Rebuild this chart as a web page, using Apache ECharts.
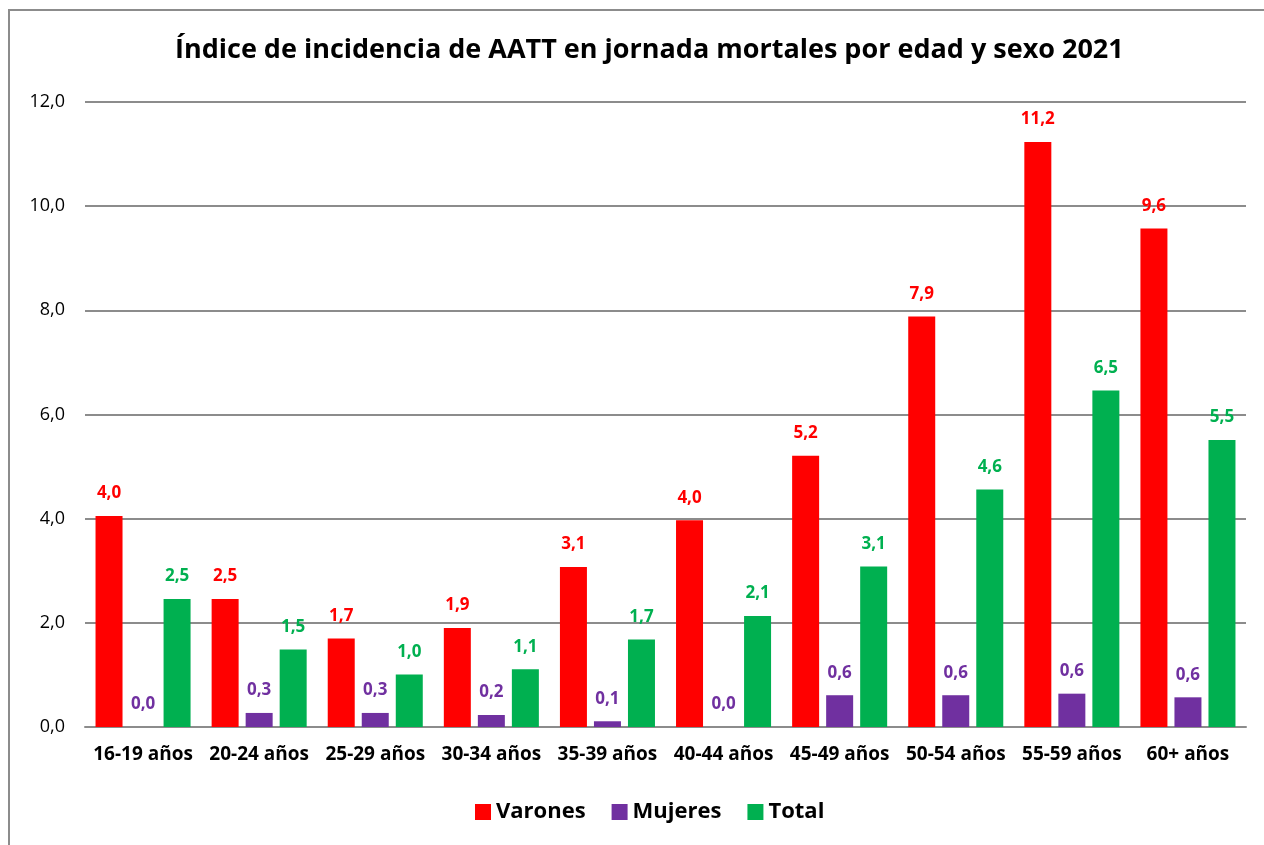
<!DOCTYPE html>
<html>
<head>
<meta charset="utf-8">
<script src="https://cdn.jsdelivr.net/npm/echarts@6/dist/echarts.min.js"></script>
<style>
  html, body { margin: 0; padding: 0; background: #fff; }
  #chart { width: 1264px; height: 845px; }
  #frame { position: absolute; left: 8px; top: 9px; width: 1300px; height: 900px; border: 2px solid #8c8c8c; pointer-events: none; }
</style>
</head>
<body>
<div id="chart"></div>
<div id="frame"></div>
<script>
const categories = ["16-19 años", "20-24 años", "25-29 años", "30-34 años", "35-39 años",
  "40-44 años", "45-49 años", "50-54 años", "55-59 años", "60+ años"];
const varones = [4.05, 2.46, 1.70, 1.90, 3.07, 3.97, 5.21, 7.88, 11.23, 9.57];
const mujeres = [0.0, 0.27, 0.27, 0.23, 0.11, 0.0, 0.61, 0.61, 0.64, 0.57];
const total = [2.46, 1.49, 1.01, 1.11, 1.68, 2.13, 3.08, 4.56, 6.46, 5.51];
const font = "'Open Sans', 'Noto Sans', sans-serif";

const fmt = v => v.toFixed(1).replace(".", ",");

function series(name, data, color) {
  return {
    name: name,
    type: "bar",
    data: data,
    barWidth: 27,
    barGap: "26%",
    barCategoryGap: "18%",
    itemStyle: { color: color },
    label: {
      show: true,
      position: "top",
      distance: 14,
      color: color,
      fontFamily: font,
      fontWeight: "bold",
      fontSize: 17,
      formatter: p => fmt(p.value),
    },
  };
}

const chart = echarts.init(document.getElementById("chart"));
chart.setOption({
  animation: false,
  title: {
    text: "Índice de incidencia de AATT en jornada mortales por edad y sexo 2021",
    left: 170,
    top: 32,
    textStyle: { fontFamily: font, fontWeight: "bold", fontSize: 27, color: "#000" },
  },
  grid: { left: 85, right: 18, top: 102, bottom: 118 },
  xAxis: {
    type: "category",
    data: categories,
    axisTick: { show: false },
    axisLine: { lineStyle: { color: "#8c8c8c", width: 2 } },
    axisLabel: {
      interval: 0, fontFamily: font, fontWeight: "bold", fontSize: 19, color: "#000", margin: 18,
      overflow: "none",
    },
  },
  yAxis: {
    type: "value",
    min: 0,
    max: 12,
    interval: 2,
    axisLine: { show: false },
    axisTick: { show: false },
    splitLine: { lineStyle: { color: "#8c8c8c", width: 2 } },
    axisLabel: { fontFamily: font, fontSize: 18, color: "#000", margin: 20, formatter: v => fmt(v) },
  },
  legend: {
    bottom: 17,
    left: 470,
    itemWidth: 16,
    itemHeight: 16,
    itemGap: 26,
    icon: "rect",
    textStyle: { fontFamily: font, fontWeight: "bold", fontSize: 22, color: "#000" },
    data: ["Varones", "Mujeres", "Total"],
  },
  series: [
    series("Varones", varones, "#ff0000"),
    series("Mujeres", mujeres, "#7030a0"),
    series("Total", total, "#00b050"),
  ],
});
</script>
</body>
</html>
